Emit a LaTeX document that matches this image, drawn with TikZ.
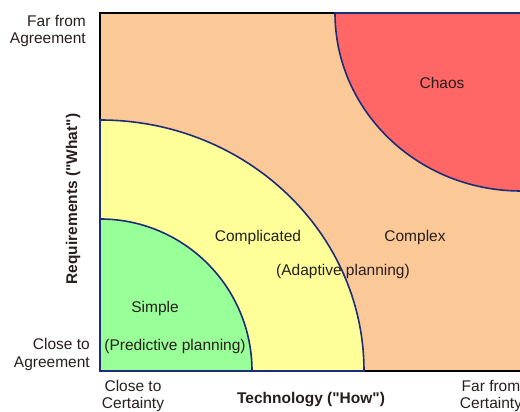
\documentclass[tikz,border=0pt]{standalone}
\usepackage{fontspec}
\setmainfont{Liberation Sans}
\usepackage{tikz}
\definecolor{peach}{RGB}{251,200,152}
\definecolor{lemon}{RGB}{255,255,153}
\definecolor{mint}{RGB}{153,255,153}
\definecolor{chaosred}{RGB}{255,102,102}
\definecolor{edge}{RGB}{30,45,120}
\definecolor{ink}{RGB}{40,30,30}

\begin{document}
\begin{tikzpicture}[x=1pt,y=1pt,
    region/.style={draw=edge, line width=1.6pt, line join=round},
    lbl/.style={inner sep=0pt, text=ink, font=\fontsize{15.5}{17.5}\selectfont},
    axis/.style={lbl, font=\fontsize{15.5}{17.5}\selectfont\bfseries}]
            \useasboundingbox (-100,-41) rectangle (420,371);
            \clip (-100,-41) rectangle (420,371);
            \fill [peach] (0,0) rectangle (430,358);
            \draw [line width=1.6pt] (430,0) -- (0,0) -- (0,358) -- (430,358);
            \draw [region, fill=chaosred] (235,358) arc[start angle=180, end angle=270, x radius=186, y radius=178] -- (430,180) -- (430,358) -- cycle;
            \draw [region, fill=lemon] (0,251) arc[start angle=90, end angle=0, x radius=264, y radius=251] -- (0,0) -- cycle;
            \draw [region, fill=mint] (0,152) arc[start angle=90, end angle=0, radius=152] -- (0,0) -- cycle;
            \node [lbl, anchor=east, align=right] (farAgree) at (-14,340) {Far from\\Agreement};
            \node [lbl, anchor=east, align=right] (closeAgree) at (-10,16.5) {Close to\\Agreement};
            \node [lbl, align=center] (closeCert) at (33,-25) {Close to\\Certainty};
            \node [lbl, align=center] (farCert) at (391,-25) {Far from\\Certainty};
            \node [axis] (tech) at (211,-29) {Technology (\textquotedbl How\textquotedbl)};
            \node [axis, rotate=90] (req) at (-27,172) {Requirements (\textquotedbl What\textquotedbl)};
            \node [lbl] (simple) at (55,63) {Simple};
            \node [lbl] (predictive) at (75,25) {(Predictive planning)};
            \node [lbl] (complicated) at (158,134) {Complicated};
            \node [lbl] (complex) at (315,134) {Complex};
            \node [lbl] (adaptive) at (243,100) {(Adaptive planning)};
            \node [lbl] (chaos) at (342,288) {Chaos};
        \end{tikzpicture}
\end{document}
